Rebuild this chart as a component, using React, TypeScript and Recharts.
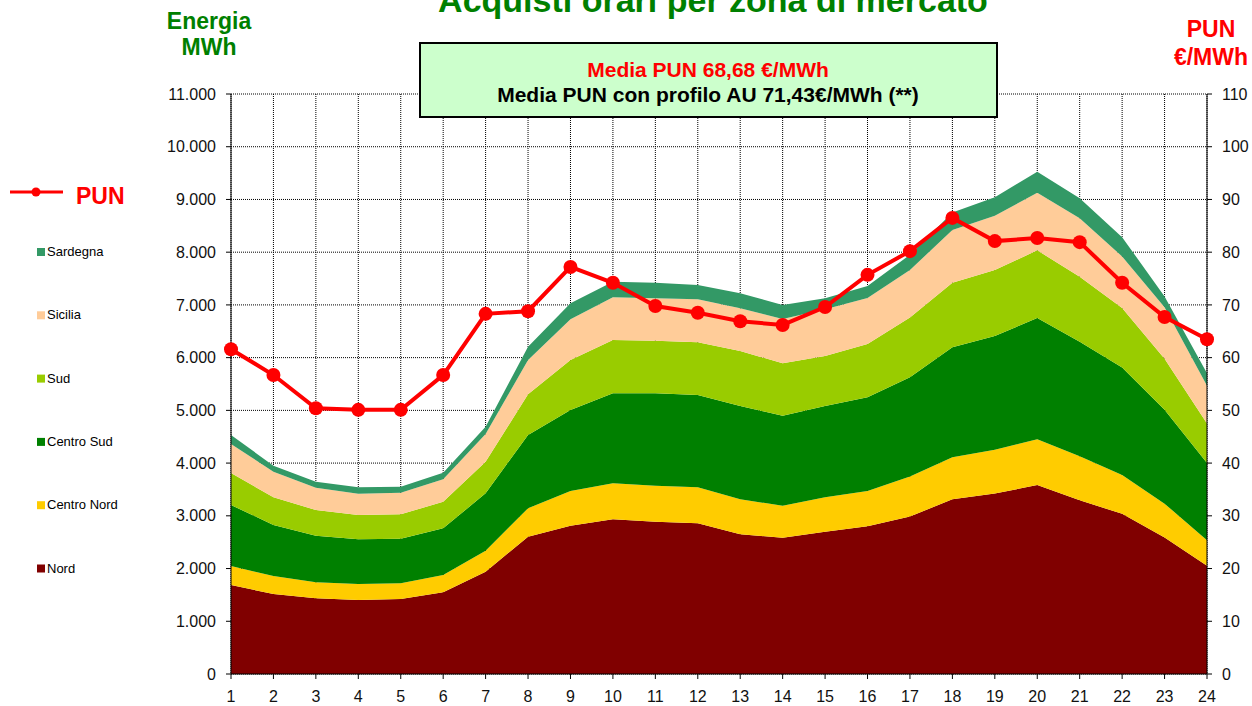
import { Area, CartesianGrid, ComposedChart, Line, XAxis, YAxis } from 'recharts';

const hours = [1, 2, 3, 4, 5, 6, 7, 8, 9, 10, 11, 12, 13, 14, 15, 16, 17, 18, 19, 20, 21, 22, 23, 24];

// MWh per zona (valori impilati nel grafico)
const nord = [1688, 1517, 1435, 1403, 1422, 1549, 1941, 2604, 2813, 2934, 2889, 2858, 2649, 2585, 2699, 2800, 2987, 3314, 3423, 3584, 3295, 3038, 2588, 2055];
const centroNord = [360, 341, 304, 304, 298, 328, 398, 538, 658, 682, 682, 683, 664, 607, 652, 670, 757, 796, 829, 867, 835, 738, 643, 482];
const centroSud = [1157, 968, 884, 848, 846, 886, 1088, 1390, 1536, 1707, 1752, 1750, 1769, 1707, 1731, 1780, 1882, 2088, 2158, 2299, 2171, 2036, 1779, 1464];
const sud = [607, 525, 487, 460, 462, 505, 600, 772, 948, 1011, 998, 999, 1043, 993, 949, 1010, 1137, 1220, 1252, 1285, 1233, 1131, 969, 752];
const sicilia = [550, 486, 424, 405, 411, 424, 525, 651, 771, 810, 804, 816, 810, 840, 885, 869, 899, 1002, 1028, 1091, 1111, 976, 977, 713];
const sardegna = [170, 113, 113, 120, 114, 126, 138, 252, 304, 296, 296, 271, 285, 266, 209, 230, 290, 334, 353, 399, 379, 366, 205, 237];

// PUN €/MWh
const pun = [61.6, 56.7, 50.4, 50.1, 50.1, 56.7, 68.3, 68.8, 77.2, 74.2, 69.8, 68.5, 66.9, 66.2, 69.6, 75.7, 80.2, 86.5, 82.1, 82.7, 81.9, 74.2, 67.7, 63.5];

const energyTicks = [0, 1000, 2000, 3000, 4000, 5000, 6000, 7000, 8000, 9000, 10000, 11000];
const punTicks = [0, 10, 20, 30, 40, 50, 60, 70, 80, 90, 100, 110];

const zones = [
  { key: 'nord', label: 'Nord', color: '#800000' },
  { key: 'centroNord', label: 'Centro Nord', color: '#FFCC00' },
  { key: 'centroSud', label: 'Centro Sud', color: '#008000' },
  { key: 'sud', label: 'Sud', color: '#99CC00' },
  { key: 'sicilia', label: 'Sicilia', color: '#FFCC99' },
  { key: 'sardegna', label: 'Sardegna', color: '#339966' },
];

const data = hours.map((hour, i) => ({
  hour,
  nord: nord[i],
  centroNord: centroNord[i],
  centroSud: centroSud[i],
  sud: sud[i],
  sicilia: sicilia[i],
  sardegna: sardegna[i],
  pun: pun[i],
}));

const FONT = '"Liberation Sans", Arial, Helvetica, sans-serif';
const GREEN = '#008000';
const RED = '#FF0000';

const formatThousands = (value: number) => String(value).replace(/\B(?=(\d{3})+(?!\d))/g, '.');

const tickStyle = { fontSize: 16, fill: '#111', fontFamily: FONT };

function Overlay() {
  const legendZones = [...zones].reverse();
  return (
    <svg width={1252} height={706} style={{ position: 'absolute', left: 0, top: 0, pointerEvents: 'none' }}>
      <text x={713} y={12} textAnchor="middle" fontSize={34} fontWeight="bold" fill={GREEN} fontFamily={FONT}>
        Acquisti orari per zona di mercato
      </text>
      <text x={209} y={29} textAnchor="middle" fontSize={23} fontWeight="bold" fill={GREEN} fontFamily={FONT}>
        Energia
      </text>
      <text x={209} y={55} textAnchor="middle" fontSize={23} fontWeight="bold" fill={GREEN} fontFamily={FONT}>
        MWh
      </text>
      <text x={1211} y={37} textAnchor="middle" fontSize={23} fontWeight="bold" fill={RED} fontFamily={FONT}>
        PUN
      </text>
      <text x={1211} y={65} textAnchor="middle" fontSize={23} fontWeight="bold" fill={RED} fontFamily={FONT}>
        €/MWh
      </text>

      <rect x={420} y={43} width={577} height={74} fill="#CCFFCC" stroke="#000" strokeWidth={2} />
      <text x={708} y={77} textAnchor="middle" fontSize={21} fontWeight="bold" fill={RED} fontFamily={FONT}>
        Media PUN 68,68 €/MWh
      </text>
      <text x={708} y={102} textAnchor="middle" fontSize={21} fontWeight="bold" fill="#000" fontFamily={FONT}>
        Media PUN con profilo AU 71,43€/MWh (**)
      </text>

      <line x1={10} y1={192} x2={63} y2={192} stroke={RED} strokeWidth={3} />
      <circle cx={36} cy={192} r={4.5} fill={RED} />
      <text x={76} y={204} fontSize={23} fontWeight="bold" fill={RED} fontFamily={FONT}>
        PUN
      </text>
      {legendZones.map((zone, i) => {
        const baseline = 256 + i * 63.3;
        return (
          <g key={zone.key}>
            <rect x={37} y={baseline - 8} width={8} height={8} fill={zone.color} />
            <text x={47} y={baseline} fontSize={13} fill="#000" fontFamily={FONT}>
              {zone.label}
            </text>
          </g>
        );
      })}
    </svg>
  );
}

export default function App() {
  return (
    <div style={{ position: 'absolute', left: 0, top: 0, width: 1252, height: 706, background: '#fff' }}>
      <ComposedChart width={1252} height={706} data={data} margin={{ top: 94, right: 0, bottom: 0, left: 171 }}>
        <CartesianGrid yAxisId="left" stroke="#000" strokeDasharray="1 1" />
        <XAxis
          dataKey="hour"
          type="number"
          domain={[1, 24]}
          ticks={hours}
          interval={0}
          height={32}
          tickSize={5}
          tickMargin={12}
          axisLine={{ stroke: '#000' }}
          tickLine={{ stroke: '#000' }}
          tick={tickStyle}
        />
        <YAxis
          yAxisId="left"
          domain={[0, 11000]}
          ticks={energyTicks}
          width={60}
          tickSize={5}
          tickMargin={10}
          tickFormatter={formatThousands}
          axisLine={{ stroke: '#000' }}
          tickLine={{ stroke: '#000' }}
          tick={tickStyle}
        />
        <YAxis
          yAxisId="right"
          orientation="right"
          domain={[0, 110]}
          ticks={punTicks}
          width={45}
          tickSize={5}
          tickMargin={10}
          axisLine={{ stroke: '#000' }}
          tickLine={{ stroke: '#000' }}
          tick={tickStyle}
        />
        {zones.map((zone) => (
          <Area
            key={zone.key}
            yAxisId="left"
            type="linear"
            dataKey={zone.key}
            name={zone.label}
            stackId="zone"
            stroke="none"
            fill={zone.color}
            fillOpacity={1}
            isAnimationActive={false}
          />
        ))}
        <Line
          yAxisId="right"
          type="linear"
          dataKey="pun"
          name="PUN"
          stroke={RED}
          strokeWidth={4}
          dot={{ r: 7, fill: RED, stroke: 'none' }}
          isAnimationActive={false}
        />
      </ComposedChart>
      <Overlay />
    </div>
  );
}
